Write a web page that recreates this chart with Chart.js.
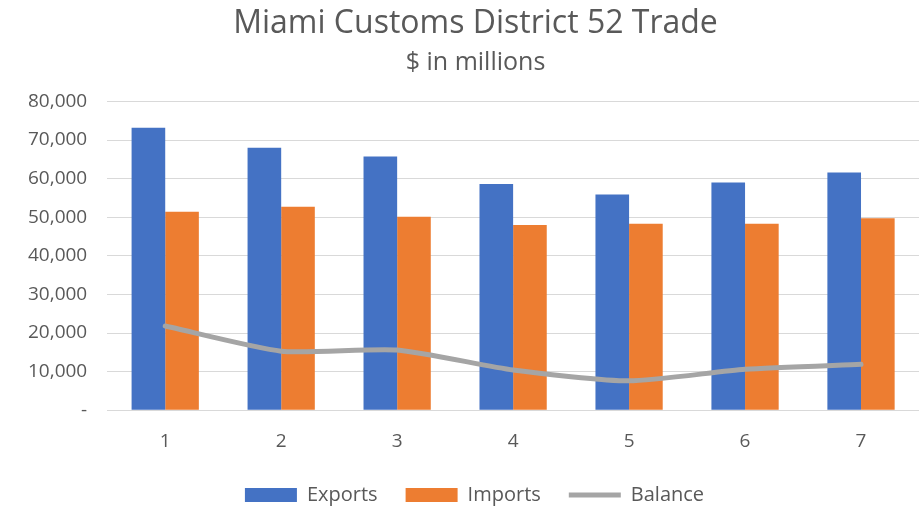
<!DOCTYPE html>
<html>
<head>
<meta charset="utf-8">
<script src="https://cdn.jsdelivr.net/npm/chart.js@4/dist/chart.umd.min.js"></script>
<style>
html,body{margin:0;padding:0;background:#fff;}
#wrap{width:919px;height:508px;}
</style>
</head>
<body>
<div id="wrap"><canvas id="c" width="919" height="508"></canvas></div>
<script>
const categories = ['1','2','3','4','5','6','7'];
const exportsVals = [73200, 68000, 65700, 58600, 55900, 59000, 61600];
const importsVals = [51400, 52700, 50100, 48000, 48300, 48300, 49700];
const balanceVals = [21800, 15300, 15600, 10400, 7600, 10600, 11900];
const titleText = 'Miami Customs District 52 Trade';
const subtitleText = '$ in millions';

const FONT = "'Open Sans', 'Noto Sans', sans-serif";
const GREY = '#595959';

// shift the centred header/legend blocks slightly right, as in the original layout
const shiftBlocks = {
  id: 'shiftBlocks',
  afterLayout(chart) {
    chart.boxes.forEach(b => {
      if (b === chart.legend) { b.left += 22; }
      else if (b.options && typeof b.options.text === 'string' && b.options.display) { b.left += 24; }
    });
  }
};

new Chart(document.getElementById('c'), {
  data: {
    labels: categories,
    datasets: [
      { type: 'line', label: 'Balance', data: balanceVals, borderColor: '#a5a5a5', backgroundColor: '#a5a5a5',
        borderWidth: 5, pointRadius: 0, tension: 0.2, order: 0, borderCapStyle: 'round', borderJoinStyle: 'round' },
      { type: 'bar', label: 'Exports', data: exportsVals, backgroundColor: '#4472c4', order: 1,
        categoryPercentage: 0.58, barPercentage: 1.0 },
      { type: 'bar', label: 'Imports', data: importsVals, backgroundColor: '#ed7d31', order: 1,
        categoryPercentage: 0.58, barPercentage: 1.0 }
    ]
  },
  plugins: [shiftBlocks],
  options: {
    responsive: false,
    animation: false,
    layout: { padding: { left: 8, right: 0, top: 0, bottom: -7 } },
    plugins: {
      title: { display: true, text: titleText, color: GREY, font: { family: FONT, size: 32, weight: 'normal' }, padding: { top: 5, bottom: 1 } },
      subtitle: { display: true, text: subtitleText, color: GREY, font: { family: FONT, size: 25, weight: 'normal' }, padding: { top: 3, bottom: 24 } },
      legend: {
        position: 'bottom',
        labels: {
          color: GREY,
          font: { family: FONT, size: 20 },
          usePointStyle: true,
          pointStyleWidth: 52,
          boxHeight: 14,
          padding: 28,
          sort: (a, b) => {
            const order = ['Exports','Imports','Balance'];
            return order.indexOf(a.text) - order.indexOf(b.text);
          },
          generateLabels: (chart) => {
            const items = Chart.defaults.plugins.legend.labels.generateLabels(chart);
            items.forEach(it => {
              const ds = chart.data.datasets[it.datasetIndex];
              if (ds.type === 'line') { it.pointStyle = 'line'; it.lineWidth = 5; it.strokeStyle = '#a5a5a5'; }
              else { it.pointStyle = 'rect'; it.lineWidth = 0; }
            });
            return items;
          }
        }
      },
      tooltip: { enabled: false }
    },
    scales: {
      x: {
        grid: { display: false },
        border: { display: true, color: '#d9d9d9', width: 1 },
        ticks: { color: GREY, font: { family: FONT, size: 19 }, padding: 12 },
        afterFit: (scale) => { scale.height -= 8; }
      },
      y: {
        min: 0, max: 80000,
        ticks: { stepSize: 10000, color: GREY, font: { family: FONT, size: 19 }, padding: 20,
          callback: (v) => v === 0 ? '-' : v.toLocaleString('en-US') },
        grid: { color: '#d9d9d9', lineWidth: 1, drawTicks: false },
        border: { display: false }
      }
    }
  }
});
</script>
</body>
</html>
